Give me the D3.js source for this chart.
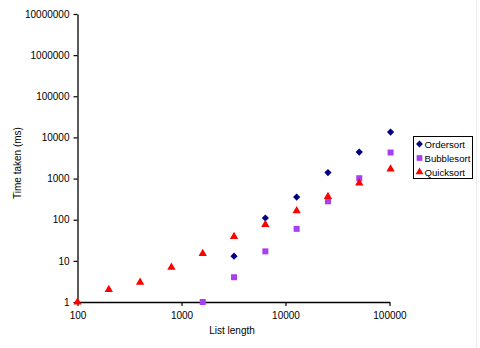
<!DOCTYPE html>
<html>
<head>
<meta charset="utf-8">
<script src="https://cdn.jsdelivr.net/npm/d3@7"></script>
<style>
  html, body { margin: 0; padding: 0; background: #fff; }
  svg { display: block; }
  text { font-family: "Liberation Sans", Arial, sans-serif; fill: #000; }
</style>
</head>
<body>
<svg id="chart" width="480" height="348"></svg>
<script>
// List lengths (doubling) and measured run times in ms
const listLengths = [100, 200, 400, 800, 1600, 3200, 6400, 12800, 25600, 51200, 102400];
const ordersortTimes  = [null, null, null, null, null, 13, 110, 355, 1400, 4400, 13500];
const bubblesortTimes = [null, null, null, null, 1, 4, 17, 60, 280, 1020, 4300];
const quicksortTimes  = [1, 2, 3, 7, 15, 39, 76, 165, 365, 775, 1700];

const xTicks = [100, 1000, 10000, 100000];
const yTicks = [1, 10, 100, 1000, 10000, 100000, 1000000, 10000000];

const seriesNames = ["Ordersort", "Bubblesort", "Quicksort"];
const seriesColors = ["#000080", "#a83ff0", "#ff0000"];

const series = [ordersortTimes, bubblesortTimes, quicksortTimes].map((vals, i) => ({
  name: seriesNames[i],
  color: seriesColors[i],
  points: listLengths.map((n, j) => ({ n, t: vals[j] })).filter(p => p.t != null)
}));

const svg = d3.select("#chart");

const x = d3.scaleLog().domain([100, 100000]).range([77.5, 389.5]);
const y = d3.scaleLog().domain([1, 10000000]).range([302, 14]);

// Marker shapes: diamond (rotated square), square, triangle
const shapes = [
  { type: d3.symbolSquare, size: 26, rotate: 45 },
  { type: d3.symbolSquare, size: 36, rotate: 0 },
  { type: d3.symbolTriangle, size: 30, rotate: 0 }
];

function marker(sel, k, scale = 1) {
  sel.append("path")
    .attr("d", d3.symbol().type(shapes[k].type).size(shapes[k].size * scale)())
    .attr("transform", shapes[k].rotate ? `rotate(${shapes[k].rotate})` : null)
    .attr("fill", seriesColors[k]);
}

// faint frame edge of the chart area
svg.append("line")
  .attr("x1", 476.5).attr("x2", 476.5).attr("y1", 0).attr("y2", 348)
  .attr("stroke", "#ececec").attr("stroke-width", 1);

// Y axis
const yAxis = svg.append("g")
  .attr("transform", "translate(77.5,0)")
  .call(d3.axisLeft(y).tickValues(yTicks).tickFormat(d3.format("d"))
    .tickSize(4).tickSizeOuter(0).tickPadding(4));

// X axis
const xAxis = svg.append("g")
  .attr("transform", "translate(0,302)")
  .call(d3.axisBottom(x).tickValues(xTicks).tickFormat(d3.format("d"))
    .tickSize(4).tickSizeOuter(0).tickPadding(6));

[yAxis, xAxis].forEach(g => {
  g.selectAll("path.domain").attr("stroke", "#000").attr("stroke-width", 1.3);
  g.selectAll(".tick line").attr("stroke", "#000").attr("stroke-width", 1.2);
  g.selectAll(".tick text").attr("font-size", 10)
    .attr("font-family", "'Liberation Sans', Arial, sans-serif").attr("fill", "#000");
});

// Axis titles
svg.append("text")
  .attr("x", 232).attr("y", 333.5)
  .attr("text-anchor", "middle").attr("font-size", 10)
  .text("List length");

svg.append("text")
  .attr("transform", "translate(20.5,163) rotate(-90)")
  .attr("text-anchor", "middle").attr("font-size", 10)
  .text("Time taken (ms)");

// Data points
series.forEach((s, k) => {
  svg.append("g").selectAll("g")
    .data(s.points)
    .join("g")
    .attr("transform", d => `translate(${x(d.n)},${y(d.t)})`)
    .each(function() { marker(d3.select(this), k); });
});

// Legend
const legend = svg.append("g").attr("transform", "translate(413.5,136.5)");
legend.append("rect")
  .attr("width", 59).attr("height", 42)
  .attr("fill", "#fff").attr("stroke", "#000").attr("stroke-width", 1);

seriesNames.forEach((name, k) => {
  const row = legend.append("g").attr("transform", `translate(6,${7.5 + k * 14})`);
  marker(row.append("g"), k, 0.9);
  row.append("text")
    .attr("x", 5).attr("y", 3.6)
    .attr("font-size", 9.6)
    .text(name);
});
</script>
</body>
</html>
